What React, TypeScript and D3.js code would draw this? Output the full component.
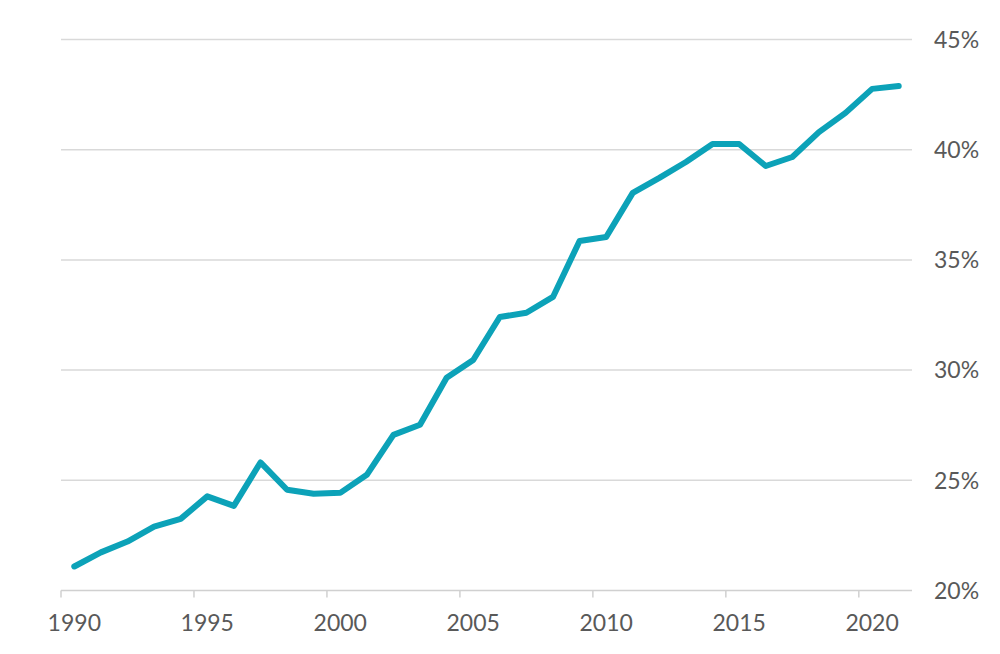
import * as d3 from "d3";

const years = d3.range(1990, 2022);
const shares = [
  21.09, 21.73, 22.22, 22.9, 23.25, 24.27, 23.84, 25.81, 24.57, 24.39, 24.43,
  25.25, 27.06, 27.52, 29.65, 30.46, 32.41, 32.6, 33.32, 35.86, 36.04, 38.04,
  38.72, 39.44, 40.26, 40.26, 39.26, 39.67, 40.8, 41.67, 42.76, 42.89,
];
const yTicks = [20, 25, 30, 35, 40, 45];
const labelYears = [1990, 1995, 2000, 2005, 2010, 2015, 2020];

const W = 1000;
const H = 654;
const font = "Lato, 'Open Sans', sans-serif";
const textColor = "#595959";

export default function App() {
  const x = d3.scaleBand<number>().domain(years).range([61, 912]).padding(0);
  const y = d3.scaleLinear().domain([20, 45]).range([590.5, 39.5]);

  const line = d3
    .line<number>()
    .x((_, i) => (x(years[i]) ?? 0) + x.bandwidth() / 2)
    .y((d) => y(d));

  return (
    <svg
      width={W}
      height={H}
      style={{ position: "absolute", left: 0, top: 0, background: "#fff" }}
    >
      {/* gridlines */}
      {yTicks
        .filter((t) => t > 20)
        .map((t) => (
          <line
            key={t}
            x1={61}
            x2={912}
            y1={y(t)}
            y2={y(t)}
            stroke="#d9d9d9"
            strokeWidth={1.5}
          />
        ))}

      {/* x axis */}
      <line x1={61} x2={912} y1={y(20)} y2={y(20)} stroke="#d0d0d0" strokeWidth={1.5} />
      {labelYears.map((yr) => (
        <g key={yr}>
          <line
            x1={x(yr)}
            x2={x(yr)}
            y1={y(20)}
            y2={y(20) + 7}
            stroke="#d0d0d0"
            strokeWidth={1.5}
          />
          <text
            x={(x(yr) ?? 0) + x.bandwidth() / 2}
            y={631}
            textAnchor="middle"
            fontFamily={font}
            fontSize={23}
            fill={textColor}
          >
            {yr}
          </text>
        </g>
      ))}

      {/* y labels */}
      {yTicks.map((t) => (
        <text
          key={t}
          x={934}
          y={y(t)}
          dy="0.36em"
          fontFamily={font}
          fontSize={23}
          fill={textColor}
        >
          {t}%
        </text>
      ))}

      <path
        d={line(shares) ?? ""}
        fill="none"
        stroke="#0ca2b8"
        strokeWidth={6}
        strokeLinejoin="round"
        strokeLinecap="round"
      />
    </svg>
  );
}
